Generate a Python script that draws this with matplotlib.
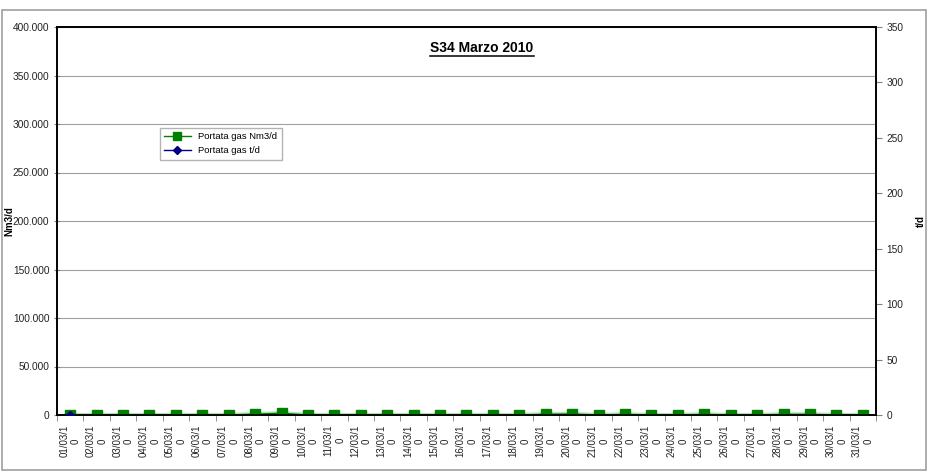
import numpy as np
import matplotlib.pyplot as plt
from matplotlib.lines import Line2D
from matplotlib.patches import Rectangle
from matplotlib.ticker import FuncFormatter

plt.rcParams['font.family'] = ['Liberation Sans', 'DejaVu Sans']

# data
days = ["%02d/03/1\n0" % d for d in range(1, 32)]
nm3_d = [0, 0, 0, 0, 0, 0, 0, 900, 1800, 0,
         0, 0, 0, 0, 0, 0, 0, 0, 800, 1000,
         0, 700, 0, 0, 700, 0, 0, 700, 700, 0, 0]
t_d = [0] + [np.nan] * 30

left_ticks = [0, 50000, 100000, 150000, 200000, 250000, 300000, 350000, 400000]
right_ticks = [0, 50, 100, 150, 200, 250, 300, 350]

fig = plt.figure(figsize=(9.28, 4.74), dpi=100)
fig.patches.append(Rectangle((2 / 928, 4 / 474), 924 / 928, 460 / 474,
                             transform=fig.transFigure, fill=False,
                             edgecolor='#a0a0a0', lw=1.2))

ax = fig.add_axes([57 / 928, 1 - 415 / 474, 819 / 928, 388 / 474])
ax2 = ax.twinx()

x = np.arange(len(days))
ax.plot(x, nm3_d, color='#7fd07f', lw=3.0, alpha=0.6, zorder=2)
l1, = ax.plot(x, nm3_d, color='#008000', lw=1.0, marker='s', ms=6.5,
              mec='#008000', mfc='#008000', label='Portata gas Nm3/d', zorder=3)
l2, = ax2.plot(x, t_d, color='#000080', lw=1.0, marker='D', ms=4.5,
               label='Portata gas t/d', zorder=4)

ax.set_xlim(-0.5, len(days) - 0.5)
ax.set_ylim(0, 400000)
ax2.set_ylim(0, 350)
ax.set_yticks(left_ticks)
ax2.set_yticks(right_ticks)
ax.yaxis.set_major_formatter(FuncFormatter(lambda v, p: format(int(v), ',').replace(',', '.')))
ax.grid(axis='y', color='#a0a0a0', lw=0.8)
ax.set_axisbelow(True)

ax.set_xticks(x)
ax.set_xticklabels(days, rotation=90, fontsize=7, color='#222222',
                   ha='center', va='top', multialignment='center')
ax.set_xticks(np.arange(-0.5, len(days), 1), minor=True)
ax.tick_params(axis='x', which='major', length=0, pad=7)
ax.tick_params(axis='x', which='minor', length=4, color='#808080', direction='out')
ax.tick_params(axis='y', labelsize=7.3, length=4, color='#808080', direction='inout',
               labelcolor='#222222')
ax2.tick_params(axis='y', labelsize=7.3, length=4, color='#808080', direction='out',
                labelcolor='#222222')

for a in (ax, ax2):
    for s in a.spines.values():
        s.set_color('black')
        s.set_linewidth(1.2)

ax.set_ylabel('Nm3/d', fontsize=7, fontweight='bold')
ax.yaxis.set_label_coords((14 - 57) / 819, 0.5)
ax2.set_ylabel('t/d', fontsize=7, fontweight='bold')
ax2.yaxis.set_label_coords((916 - 57) / 819, 0.5)

fig.legend(handles=[l1, l2], loc='upper left',
           bbox_to_anchor=(160 / 928, 1 - 128 / 474), borderaxespad=0,
           fontsize=6.8, frameon=True, fancybox=False, edgecolor='#a0a0a0',
           handlelength=2.8, borderpad=0.45, labelspacing=0.55, markerscale=0.8)

t = fig.text(482 / 928, 1 - 48 / 474, 'S34 Marzo 2010', fontsize=10,
             fontweight='bold', ha='center', va='center')
fig.canvas.draw()
bb = t.get_window_extent().transformed(fig.transFigure.inverted())
fig.add_artist(Line2D([bb.x0, bb.x1], [bb.y0 - 0.002, bb.y0 - 0.002],
                      transform=fig.transFigure, color='black', lw=1.1))

fig.savefig('out.png', dpi=100)
